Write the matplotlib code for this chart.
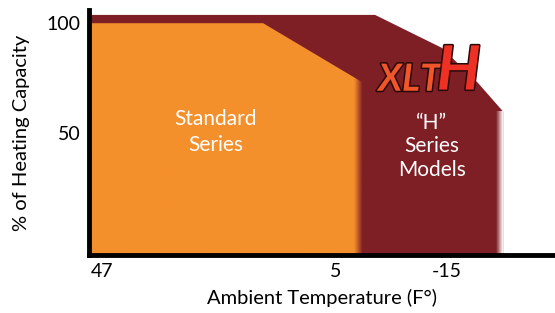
import numpy as np
import matplotlib.pyplot as plt
import matplotlib.patheffects as pe
from matplotlib.colors import to_rgb

plt.rcParams["font.family"] = ["Lato", "DejaVu Sans"]

# capacity envelopes (temperature in °F, % of heating capacity)
h_temp = [49, -2, -14, -20.5, -25]
h_cap = [104, 104, 89, 73, 60]
std_temp = [49, 18, 0.1]
std_cap = [100, 100, 73]

xticks = [47, 5, -15]
yticks = [50, 100]

dark_red = "#7e1f26"
orange = "#f4902c"

fig = plt.figure(figsize=(5.55, 3.13), dpi=100)
ax = fig.add_axes([0.160, 0.185, 0.840, 0.783])

base = -5.5
ax.fill_between(h_temp, h_cap, base, color=dark_red, lw=0)
poly = ax.fill_between(std_temp, std_cap, base, color="none", lw=0)

# orange fill, fading into the red at its right edge
ramp = np.clip((np.linspace(49, 0.1, 400) - 0.1) / 1.5, 0, 1)
img = np.zeros((1, 400, 4))
img[..., :3] = to_rgb(orange)
img[..., 3] = ramp
im = ax.imshow(img, extent=[49, 0.1, base, 100], aspect="auto",
               interpolation="bilinear", zorder=2)
im.set_clip_path(poly.get_paths()[0], transform=ax.transData)

# soft right edge of the red area
ramp2 = np.clip((np.linspace(-23.8, -25, 50) + 25) / 1.2, 0, 1)
img2 = np.zeros((1, 50, 4))
img2[..., :3] = 1
img2[..., 3] = 1 - ramp2
ax.imshow(img2, extent=[-23.8, -25, base, 60], aspect="auto",
          interpolation="bilinear", zorder=2)

ax.set_xlim(49.3, -34.4)
ax.set_ylim(base, 106)

for s in ["top", "right"]:
    ax.spines[s].set_visible(False)
for s in ["left", "bottom"]:
    ax.spines[s].set_linewidth(3.5)
    ax.spines[s].set_color("black")
    ax.spines[s].set_zorder(5)

ax.set_xticks(xticks)
ax.set_xticklabels([str(t) for t in xticks])
ax.set_yticks(yticks)
ax.tick_params(length=0, labelsize=14, pad=6)
ax.set_ylabel("% of Heating Capacity", fontsize=14.5, labelpad=12)
ax.set_xlabel("Ambient Temperature (F°)", fontsize=14.5, labelpad=6)

ax.text(26.5, 50.5, "Standard\nSeries", color="white", fontsize=15,
        ha="center", va="center", linespacing=1.35, zorder=3)
ax.text(-12.3, 44, "“H”\nSeries\nModels", color="white", fontsize=15,
        ha="center", va="center", linespacing=1.22, zorder=3)

# XLT H logo
logo_font = ["Liberation Sans Narrow", "Lato"]
ax.text(-8.3, 74.5, "XLT", color="#f0562a", fontsize=27, fontweight="bold",
        fontstyle="italic", family=logo_font, ha="center", va="center",
        zorder=4,
        path_effects=[pe.withStroke(linewidth=2.2, foreground="#2a0a08")])
ax.text(-17.1, 78, "H", color="#ee3124", fontsize=44, fontweight="bold",
        fontstyle="italic", family=logo_font, ha="center", va="center",
        zorder=4,
        path_effects=[pe.withStroke(linewidth=2.2, foreground="#2a0a08")])

fig.savefig("out.png", dpi=100)
